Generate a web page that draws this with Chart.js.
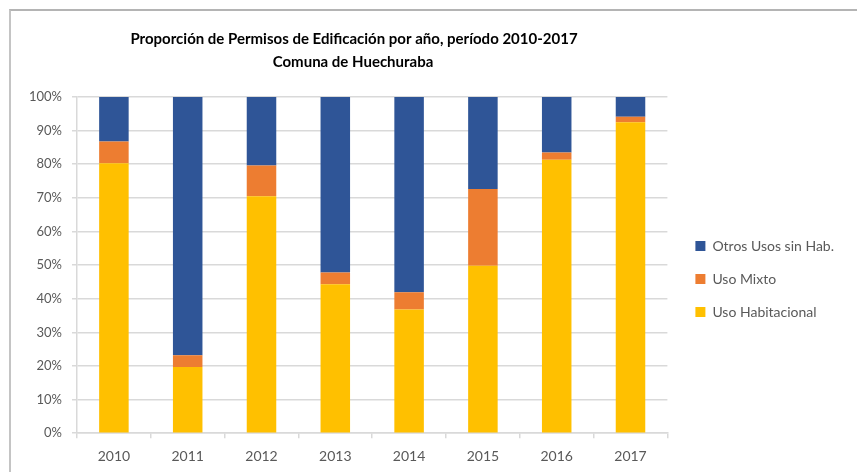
<!DOCTYPE html>
<html>
<head>
<meta charset="utf-8">
<script src="https://cdn.jsdelivr.net/npm/chart.js@4.4.1/dist/chart.umd.min.js"></script>
<style>
  html, body { margin: 0; padding: 0; background: #fff; }
  #wrap { position: relative; width: 857px; height: 472px; }
  #frame { position: absolute; left: 9px; top: 9px; right: -2px; bottom: -2px;
           border-top: 2px solid #b4b4b4; border-left: 2px solid #c4c4c4; }
  canvas { position: absolute; left: 0; top: 0; }
</style>
</head>
<body>
<div id="wrap">
  <div id="frame"></div>
  <canvas id="chart" width="857" height="472"></canvas>
</div>
<script>
// Permisos de edificación, % por año
const years = ['2010', '2011', '2012', '2013', '2014', '2015', '2016', '2017'];
const usoHabitacional = [80.3, 19.7, 70.5, 44.3, 36.8, 49.8, 81.3, 92.5];
const usoMixto = [6.5, 3.5, 9.1, 3.5, 5.1, 22.8, 2.2, 1.6];
const otrosUsos = [13.2, 76.8, 20.4, 52.2, 58.1, 27.4, 16.5, 5.9];

const titleLines = [
  'Proporción de Permisos de Edificación por año, período 2010-2017',
  'Comuna de Huechuraba'
];

const gridColor = '#d9d9d9';
const tickColor = '#595959';
const baseFont = 'Lato, "Open Sans", sans-serif';

// two-line title, centred over the bars
const titlePlugin = {
  id: 'twoLineTitle',
  afterDraw(chart) {
    const ctx = chart.ctx;
    ctx.save();
    ctx.fillStyle = '#000';
    ctx.font = 'bold 15px ' + baseFont;
    ctx.textAlign = 'center';
    ctx.textBaseline = 'middle';
    ctx.fillText(titleLines[0], 354, 39);
    ctx.fillText(titleLines[1], 353, 62);
    ctx.restore();
  }
};

// nudge the legend a little right and up
const legendShift = {
  id: 'legendShift',
  afterLayout(chart) {
    const l = chart.legend;
    l.left += 9; l.right += 9;
    l.top -= 7; l.bottom -= 7;
  }
};

new Chart(document.getElementById('chart'), {
  type: 'bar',
  data: {
    labels: years,
    datasets: [
      { label: 'Uso Habitacional', data: usoHabitacional, backgroundColor: '#ffc000' },
      { label: 'Uso Mixto', data: usoMixto, backgroundColor: '#ed7d31' },
      { label: 'Otros Usos sin Hab.', data: otrosUsos, backgroundColor: '#2f5597' }
    ]
  },
  options: {
    responsive: false,
    animation: false,
    layout: { padding: { top: 97, right: 22, bottom: -3, left: 0 } },
    datasets: { bar: { categoryPercentage: 1, barPercentage: 0.4 } },
    scales: {
      x: {
        stacked: true,
        grid: { offset: true, drawOnChartArea: false, color: gridColor, lineWidth: 1.5, tickLength: 5 },
        border: { color: gridColor, width: 1.5 },
        ticks: { color: tickColor, padding: 10, font: { family: baseFont, size: 14 } }
      },
      y: {
        stacked: true,
        min: 0,
        max: 100,
        afterFit(scale) { scale.width = 77; },
        grid: { color: gridColor, lineWidth: 1.5, tickLength: 5 },
        border: { color: gridColor, width: 1.5 },
        ticks: {
          stepSize: 10,
          color: tickColor,
          padding: 10,
          font: { family: baseFont, size: 13 },
          callback: v => v + '%'
        }
      }
    },
    plugins: {
      title: { display: false },
      tooltip: { enabled: false },
      legend: {
        position: 'right',
        reverse: true,
        labels: {
          boxWidth: 10,
          boxHeight: 10,
          padding: 19,
          color: tickColor,
          font: { family: baseFont, size: 14 }
        }
      }
    }
  },
  plugins: [titlePlugin, legendShift]
});
</script>
</body>
</html>
